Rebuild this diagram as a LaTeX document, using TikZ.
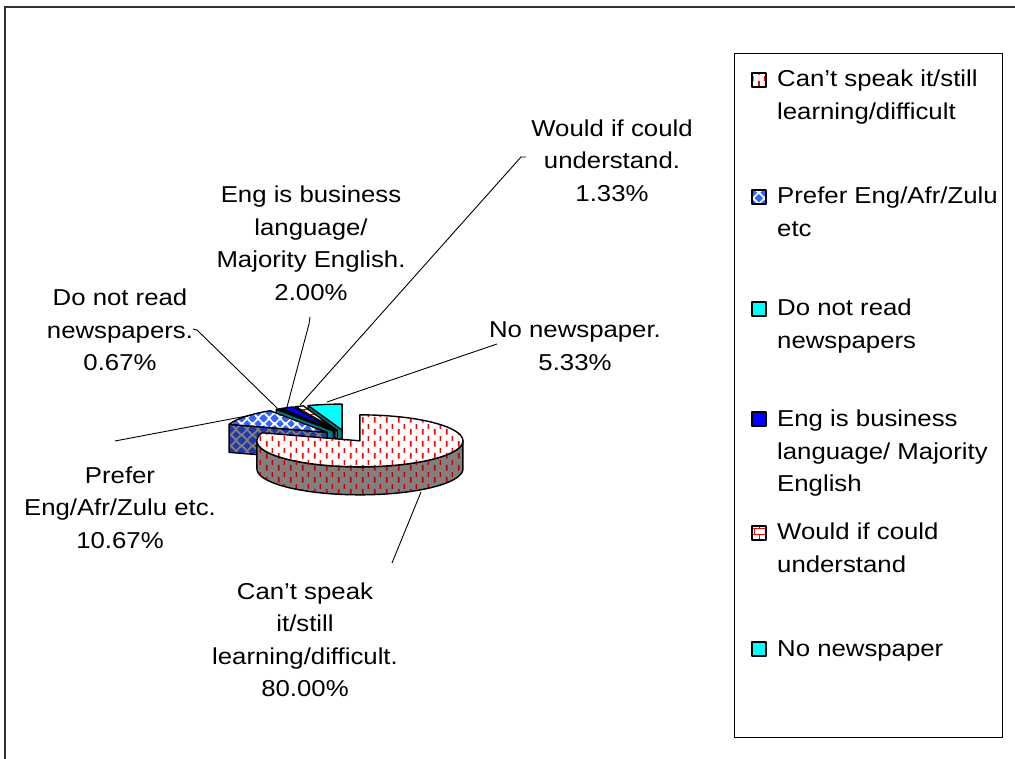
\documentclass[tikz,border=0pt]{standalone}
\usepackage{fontspec}
\setmainfont{Liberation Sans}[FakeStretch=1.12]
\usetikzlibrary{patterns}

% short vertical dashes in staggered columns
\pgfdeclarepatternformonly{vdash}{\pgfqpoint{0pt}{0pt}}{\pgfqpoint{12pt}{12pt}}{\pgfqpoint{12pt}{12pt}}{%
  \pgfsetlinewidth{1.8pt}%
  \pgfpathmoveto{\pgfqpoint{3pt}{0.5pt}}\pgfpathlineto{\pgfqpoint{3pt}{6.5pt}}%
  \pgfpathmoveto{\pgfqpoint{9pt}{6.5pt}}\pgfpathlineto{\pgfqpoint{9pt}{11.5pt}}%
  \pgfusepath{stroke}}

% grid of solid diamonds
\newcommand\diamondat[2]{%
  \pgfpathmoveto{\pgfpoint{#1pt}{#2pt-4pt}}\pgfpathlineto{\pgfpoint{#1pt+4pt}{#2pt}}%
  \pgfpathlineto{\pgfpoint{#1pt}{#2pt+4pt}}\pgfpathlineto{\pgfpoint{#1pt-4pt}{#2pt}}\pgfpathclose}
\pgfdeclarepatternformonly{diamondgrid}{\pgfqpoint{0pt}{0pt}}{\pgfqpoint{11pt}{11pt}}{\pgfqpoint{11pt}{11pt}}{%
  \diamondat{5.5}{5.5}\diamondat{0}{0}\diamondat{11}{0}\diamondat{0}{11}\diamondat{11}{11}%
  \pgfusepath{fill}}

\definecolor{cyanA}{RGB}{0,255,255}
\definecolor{tealA}{RGB}{0,128,128}
\definecolor{blueA}{RGB}{0,0,255}
\definecolor{navyA}{RGB}{0,0,128}
\definecolor{grayA}{RGB}{128,128,128}
\definecolor{diaTop}{RGB}{51,102,255}
\definecolor{diaSide}{RGB}{35,55,165}
\definecolor{dashRed}{RGB}{255,0,0}
\definecolor{dashDark}{RGB}{200,0,0}

% strut centring each text line on its visual middle
\newcommand\Lrow{\rule[-8pt]{0pt}{32pt}}

% pie geometry: centre, radii, depth, explosion
\def\PCX{346}\def\PCY{436}\def\PRX{103}\def\PRY{26}\def\PH{28}\def\PEX{0.23}

% a slice seen from the back: its leading cut face, then its top
\newcommand\backslice[4]{%
  \pgfmathsetmacro\smid{(#1+#2)/2}%
  \pgfmathsetmacro\px{\PCX+\PEX*\PRX*sin(\smid)}%
  \pgfmathsetmacro\py{\PCY-\PEX*\PRY*cos(\smid)}%
  \pgfmathsetmacro\qx{\px+\PRX*sin(#1)}%
  \pgfmathsetmacro\qy{\py-\PRY*cos(#1)}%
  \path[#4] (\px,\py) -- (\qx,\qy) -- (\qx,\qy+\PH) -- (\px,\py+\PH) -- cycle;
  \path[#3] (\px,\py) -- plot[domain=#1:#2,samples=30] ({\px+\PRX*sin(\x)},{\py-\PRY*cos(\x)}) -- cycle;
}

\tikzset{
  edge/.style={draw=black,line width=1.4pt,line join=round},
  cantTop/.style={edge,preaction={fill=white},pattern=vdash,pattern color=dashRed},
  cantSide/.style={edge,preaction={fill=grayA},pattern=vdash,pattern color=dashDark},
  prefTop/.style={edge,preaction={fill=white},pattern=diamondgrid,pattern color=diaTop},
  prefSide/.style={edge,preaction={fill=grayA},pattern=diamondgrid,pattern color=diaSide},
  wouldTop/.style={edge,preaction={fill=white},pattern=bricks,pattern color=dashRed},
  wouldSide/.style={edge,preaction={fill=grayA},pattern=bricks,pattern color=dashRed},
  cyanTop/.style={edge,fill=cyanA},
  cyanSide/.style={edge,fill=tealA},
  blueTop/.style={edge,fill=blueA},
  blueSide/.style={edge,fill=navyA},
  lbl/.style={font=\fontsize{23}{32.5}\selectfont,align=center,inner sep=0pt},
  legtxt/.style={font=\fontsize{23}{32.5}\selectfont,align=left,inner sep=0pt,anchor=west},
  legkey/.style={minimum size=14pt,inner sep=0pt,line width=1.2pt},
  leader/.style={draw=black,line width=0.9pt},
}

\begin{document}
\begin{tikzpicture}[x=1pt,y=-1pt]
\useasboundingbox (0,0) rectangle (1015,759);
\fill[white] (0,0) rectangle (1015,759);

% chart frame
\draw[line width=1.3pt,black!80] (5,759) -- (5,7) -- (1015,7);

% slices at the back
\backslice{340.8}{360}{cyanTop}{cyanSide}
\backslice{336}{340.8}{wouldTop}{wouldSide}
\backslice{328.8}{336}{blueTop}{blueSide}
\backslice{326.4}{328.8}{cyanTop}{cyanSide}
\backslice{288}{326.4}{prefTop}{prefSide}

% large front slice: outer wall, then top
\pgfmathsetmacro\bx{\PCX+\PEX*\PRX*sin(144)}
\pgfmathsetmacro\by{\PCY-\PEX*\PRY*cos(144)}
\path[cantSide] plot[domain=90:270,samples=60] ({\bx+\PRX*sin(\x)},{\by-\PRY*cos(\x)})
  -- plot[domain=270:90,samples=60] ({\bx+\PRX*sin(\x)},{\by-\PRY*cos(\x)+\PH}) -- cycle;
\path[cantTop] (\bx,\by) -- plot[domain=0:288,samples=90] ({\bx+\PRX*sin(\x)},{\by-\PRY*cos(\x)}) -- cycle;

% data labels
\node[lbl] (lWould) at (612,161) {\Lrow Would if could\\\Lrow understand.\\\Lrow 1.33\%};
\node[lbl] (lEng) at (311,243.5) {\Lrow Eng is business\\\Lrow language/\\\Lrow Majority English.\\\Lrow 2.00\%};
\node[lbl] (lDoNot) at (120,330) {\Lrow Do not read\\\Lrow newspapers.\\\Lrow 0.67\%};
\node[lbl] (lNoPaper) at (575,346) {\Lrow No newspaper.\\\Lrow 5.33\%};
\node[lbl] (lPrefer) at (120,507.5) {\Lrow Prefer\\\Lrow Eng/Afr/Zulu etc.\\\Lrow 10.67\%};
\node[lbl] (lCant) at (305,640) {\Lrow Can’t speak\\\Lrow it/still\\\Lrow learning/difficult.\\\Lrow 80.00\%};

% leader line ends
\coordinate (wA) at (526,157); \coordinate (wB) at (521,157); \coordinate (wS) at (300,405);
\coordinate (eA) at (310,317); \coordinate (eB) at (309,324); \coordinate (eS) at (287,407);
\coordinate (dA) at (193,329); \coordinate (dB) at (197,330); \coordinate (dS) at (277,408);
\coordinate (nA) at (497,344); \coordinate (nS) at (327,402);
\coordinate (pA) at (115,441); \coordinate (pS) at (252,415);
\coordinate (cA) at (392,563); \coordinate (cS) at (421,492);

\draw[leader] (wA) -- (wB) -- (wS);
\draw[leader] (eA) -- (eB) -- (eS);
\draw[leader] (dA) -- (dB) -- (dS);
\draw[leader] (nA) -- (nS);
\draw[leader] (pA) -- (pS);
\draw[leader] (cA) -- (cS);

% legend
\node[draw=black,line width=1.2pt,minimum width=268pt,minimum height=684pt,anchor=north west,inner sep=0pt] (legend) at (734,53) {};
\node[legkey,cantTop,line width=1.2pt] (k1) at (759,80) {};
\node[legkey,prefTop,line width=1.2pt] (k2) at (759,197) {};
\node[legkey,cyanTop,line width=1.2pt] (k3) at (759,309) {};
\node[legkey,blueTop,line width=1.2pt] (k4) at (759,419) {};
\node[legkey,wouldTop,line width=1.2pt] (k5) at (759,533) {};
\node[legkey,cyanTop,line width=1.2pt] (k6) at (759,649) {};
\node[legtxt] (t1) at (777,95) {\Lrow Can’t speak it/still\\\Lrow learning/difficult};
\node[legtxt] (t2) at (777,212) {\Lrow Prefer Eng/Afr/Zulu\\\Lrow etc};
\node[legtxt] (t3) at (777,324) {\Lrow Do not read\\\Lrow newspapers};
\node[legtxt] (t4) at (777,451) {\Lrow Eng is business\\\Lrow language/ Majority\\\Lrow English};
\node[legtxt] (t5) at (777,548) {\Lrow Would if could\\\Lrow understand};
\node[legtxt] (t6) at (777,648) {\Lrow No newspaper};
\end{tikzpicture}
\end{document}
